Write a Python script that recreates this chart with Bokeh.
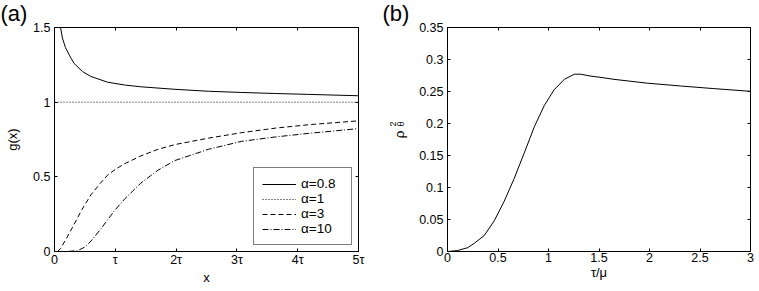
import math
from bokeh.plotting import figure
from bokeh.layouts import row
from bokeh.models import (LinearAxis, FixedTicker, Legend, LegendItem, Label, Range1d, Title)
from bokeh.embed import file_html
from bokeh.resources import INLINE

# ---------------- data ----------------
# panel (a): x in units of tau
x_a08 = [0.10, 0.13, 0.18, 0.25, 0.32, 0.46, 0.60, 0.87, 1.15, 1.42, 1.98, 2.53, 3.08, 3.63, 4.18, 5.0]
y_a08 = [1.50, 1.43, 1.366, 1.31, 1.26, 1.205, 1.172, 1.134, 1.115, 1.103, 1.086, 1.073, 1.065, 1.058, 1.052, 1.043]

x_a1 = [0.0, 5.0]
y_a1 = [1.0, 1.0]

x_a3 = [0.05, 0.10, 0.20, 0.32, 0.45, 0.60, 0.75, 0.87, 1.00, 1.15, 1.42, 1.70, 1.98, 2.53, 3.08, 3.63, 4.18, 5.0]
y_a3 = [0.0, 0.02, 0.09, 0.18, 0.28, 0.38, 0.455, 0.51, 0.55, 0.587, 0.64, 0.684, 0.716, 0.759, 0.796, 0.826, 0.849, 0.875]

x_a10 = [0.05, 0.20, 0.38, 0.50, 0.60, 0.75, 0.87, 1.00, 1.15, 1.42, 1.70, 1.98, 2.53, 3.08, 3.63, 4.18, 5.0]
y_a10 = [0.0, 0.0, 0.005, 0.03, 0.07, 0.145, 0.21, 0.28, 0.35, 0.458, 0.544, 0.609, 0.684, 0.738, 0.767, 0.791, 0.823]

legend_labels = ["α=0.8", "α=1", "α=3", "α=10"]

x_ticks_a = [0, 1, 2, 3, 4, 5]
x_tick_labels_a = ["0", "τ", "2τ", "3τ", "4τ", "5τ"]
y_ticks_a = [0, 0.5, 1, 1.5]
y_tick_labels_a = ["0", "0.5", "1", "1.5"]

# panel (b)
x_b = [0, 0.10, 0.20, 0.264, 0.364, 0.463, 0.56, 0.66, 0.76, 0.86, 0.958, 1.057, 1.157, 1.256, 1.32,
       1.42, 1.52, 1.648, 1.978, 2.308, 2.637, 3.0]
y_b = [0, 0.0015, 0.006, 0.0127, 0.025, 0.048, 0.078, 0.114, 0.154, 0.195, 0.228, 0.253, 0.269, 0.277,
       0.277, 0.274, 0.272, 0.269, 0.263, 0.2586, 0.2545, 0.2503]

x_ticks_b = [0, 0.5, 1, 1.5, 2, 2.5, 3]
x_tick_labels_b = ["0", "0.5", "1", "1.5", "2", "2.5", "3"]
y_ticks_b = [0, 0.05, 0.1, 0.15, 0.2, 0.25, 0.3, 0.35]
y_tick_labels_b = ["0", "0.05", "0.1", "0.15", "0.2", "0.25", "0.3", "0.35"]

FONT = "Liberation Sans"
TICK_SIZE = "12.5px"
LABEL_SIZE = "13px"
PANEL_SIZE = "22px"


def style_axes(p, xt, xl, yt, yl):
    for ax in p.xaxis + p.yaxis:
        ax.major_tick_in = 3
        ax.major_tick_out = 0
        ax.minor_tick_line_color = None
        ax.axis_line_color = "black"
        ax.major_tick_line_color = "black"
        ax.major_label_text_font = FONT
        ax.major_label_text_font_size = TICK_SIZE
        ax.major_label_text_color = "black"
        ax.major_label_text_line_height = 1.0
        ax.axis_label_text_font = FONT
        ax.axis_label_text_font_size = LABEL_SIZE
        ax.axis_label_text_font_style = "normal"
        ax.axis_label_text_color = "black"
        ax.axis_label_text_line_height = 1.0
    p.xaxis.ticker = FixedTicker(ticks=xt)
    p.xaxis.major_label_overrides = dict(zip(xt, xl))
    p.yaxis.ticker = FixedTicker(ticks=yt)
    p.yaxis.major_label_overrides = dict(zip(yt, yl))
    p.xaxis.major_label_standoff = 1
    p.yaxis.major_label_standoff = 4
    p.xaxis.axis_label_standoff = 0
    # mirrored ticks (box style)
    top = LinearAxis(ticker=FixedTicker(ticks=xt), major_tick_in=3, major_tick_out=0,
                     minor_tick_line_color=None, major_label_text_font_size="0px",
                     major_label_standoff=0, axis_line_color="black")
    right = LinearAxis(ticker=FixedTicker(ticks=yt), major_tick_in=3, major_tick_out=0,
                       minor_tick_line_color=None, major_label_text_font_size="0px",
                       major_label_standoff=0, axis_line_color="black")
    p.add_layout(top, "above")
    p.add_layout(right, "right")
    p.xgrid.grid_line_color = None
    p.ygrid.grid_line_color = None
    p.outline_line_color = "black"
    p.background_fill_color = "white"
    p.border_fill_color = "white"


def panel_title(text, offset):
    return Title(text=text, align="left", offset=offset, standoff=0, vertical_align="top",
                 text_font=FONT, text_font_size=PANEL_SIZE, text_font_style="normal",
                 text_color="black", text_line_height=0.8)


# ---------------- panel (a) ----------------
pa = figure(width=380, height=291, output_backend="svg", toolbar_location=None,
            x_range=Range1d(0, 5), y_range=Range1d(0, 1.5),
            min_border_left=54, min_border_right=22, min_border_top=19, min_border_bottom=40,
            x_axis_label="x", y_axis_label="g(x)")
pa.title = panel_title("(a)", -54)
r1 = pa.line(x_a08, y_a08, line_color="black", line_width=1)
r2 = pa.line(x_a1, y_a1, line_color="black", line_width=1, line_dash="1 2")
r3 = pa.line(x_a3, y_a3, line_color="black", line_width=1, line_dash="5 3")
r4 = pa.line(x_a10, y_a10, line_color="black", line_width=1, line_dash="6 2 1 2")
style_axes(pa, x_ticks_a, x_tick_labels_a, y_ticks_a, y_tick_labels_a)
pa.yaxis[0].axis_label_standoff = 10

legend = Legend(items=[LegendItem(label=lab, renderers=[r]) for lab, r in
                       zip(legend_labels, [r1, r2, r3, r4])],
                location=(199, 6), margin=0, padding=8, spacing=0,
                glyph_width=34, glyph_height=14, label_height=14, label_width=42,
                label_standoff=5,
                label_text_font=FONT, label_text_font_size="13.5px",
                label_text_color="black", border_line_color="black",
                border_line_width=1, background_fill_color="white", background_fill_alpha=1)
pa.add_layout(legend)

# ---------------- narrow strip holding "(b)" and the y label of panel (b) ----------------
pl = figure(width=32, height=291, output_backend="svg", toolbar_location=None,
            x_range=Range1d(0, 32), y_range=Range1d(0, 232),
            min_border_left=0, min_border_right=0, min_border_top=19, min_border_bottom=40)
pl.title = panel_title("(b)", 2)
pl.axis.visible = False
pl.xgrid.grid_line_color = None
pl.ygrid.grid_line_color = None
pl.outline_line_color = None
pl.border_fill_color = "white"
pl.background_fill_color = "white"
half_pi = math.pi / 2
pl.add_layout(Label(x=19, y=117, x_units="screen", y_units="screen", text="ρ", angle=half_pi,
                    text_font=FONT, text_font_size="13.5px", text_baseline="middle",
                    text_align="center", text_color="black"))
pl.add_layout(Label(x=12, y=127.5, x_units="screen", y_units="screen", text="2", angle=half_pi,
                    text_font=FONT, text_font_size="9px", text_baseline="middle",
                    text_align="center", text_color="black"))
pl.add_layout(Label(x=20.5, y=127.5, x_units="screen", y_units="screen", text="θ", angle=half_pi,
                    text_font=FONT, text_font_size="9px", text_baseline="middle",
                    text_align="center", text_color="black"))

# ---------------- panel (b) ----------------
pb = figure(width=347, height=291, output_backend="svg", toolbar_location=None,
            x_range=Range1d(0, 3), y_range=Range1d(0, 0.35),
            min_border_left=35, min_border_right=9, min_border_top=19, min_border_bottom=40,
            x_axis_label="τ/μ")
pb.line(x_b, y_b, line_color="black", line_width=1)
style_axes(pb, x_ticks_b, x_tick_labels_b, y_ticks_b, y_tick_labels_b)

layout = row(pa, pl, pb)
open("out.html", "w").write(file_html(layout, INLINE))
